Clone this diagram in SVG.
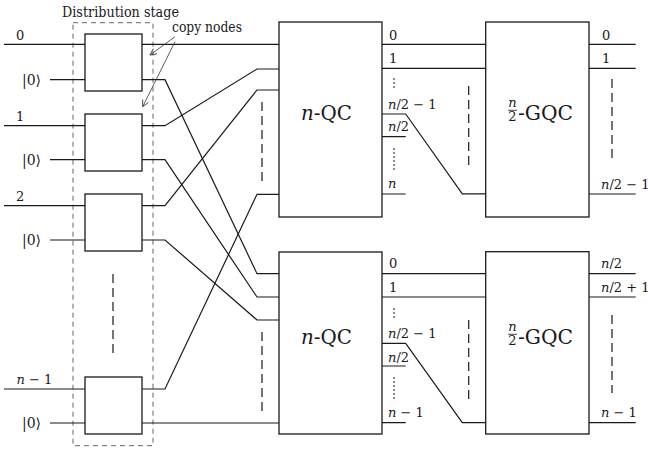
<svg xmlns="http://www.w3.org/2000/svg" width="648" height="451" viewBox="0 0 648 451" font-family="'DejaVu Serif', serif">
<defs>
<style>
.box{fill:#fff;stroke:#1a1a1a;stroke-width:1.3}
.w{fill:none;stroke:#1a1a1a;stroke-width:1.2}
.dash{fill:none;stroke:#1a1a1a;stroke-width:1.2;stroke-dasharray:9,5}
.dot{fill:none;stroke:#1a1a1a;stroke-width:1;stroke-dasharray:2,2}
.stage{fill:none;stroke:#555;stroke-width:0.9;stroke-dasharray:5,4}
.arr{fill:none;stroke:#333;stroke-width:0.8}
text{fill:#1a1a1a}
.s{font-size:13px}
.m{font-size:14px}
.big{font-size:20px}
.i{font-style:italic}
</style>
<marker id="ah" viewBox="0 0 10 10" refX="9" refY="5" markerWidth="8" markerHeight="8" markerUnits="userSpaceOnUse" orient="auto">
<path d="M1,1 L9,5 L1,9" fill="none" stroke="#333" stroke-width="1"/>
</marker>
</defs>

<g id="distribution-stage">
<rect class="stage" x="73" y="22.7" width="80" height="423"/>
<text x="62" y="16.5" font-size="15" textLength="117" lengthAdjust="spacingAndGlyphs">Distribution stage</text>
</g>

<g id="connectors">
<path class="w" d="M4,44.3H85M50,79.7H85M4,125.7H85M50,159.7H85M4,205.7H85M50,240H85M4,389H85M50,423H85"/>
<path class="w" d="M142,44.3H279"/>
<path class="w" d="M142,79.7H165L257,273.7H279"/>
<path class="w" d="M142,125.7H165L257,69H279"/>
<path class="w" d="M142,159.7H165L257,297H279"/>
<path class="w" d="M142,205.7H165L257,90H279"/>
<path class="w" d="M142,240H165L257,320H279"/>
<path class="w" d="M142,389H165L257,194.3H279"/>
<path class="w" d="M142,423H279"/>
<path class="w" d="M382,44.3H485.7M382,68.3H485.7"/>
<path class="w" d="M382,114H405.7L462.3,193.8H485.7"/>
<path class="w" d="M382,136.7H405.7M382,194H405.7"/>
<path class="w" d="M382,273.7H485.7M382,297H485.7"/>
<path class="w" d="M382,343.3H405.7L462.3,422.7H485.7"/>
<path class="w" d="M382,366H405.7M382,422.7H405.7"/>
<path class="w" d="M589,44.3H635.7M589,68.3H635.7M589,194H635.7"/>
<path class="w" d="M589,273.7H635.7M589,297H635.7M589,422.7H635.7"/>
<path class="dash" d="M113,274V353M262,102V183M262,332V412M468.7,86V166M468.7,320V400M612,79V160M612,315V393"/>
<path class="dot" d="M394,78V90M394,148V172M394,308V318M394,377V400"/>
<path class="arr" d="M175,36.7L150,55" marker-end="url(#ah)"/>
<path class="arr" d="M175,41.7L142.7,106.7" marker-end="url(#ah)"/>
</g>

<g id="copy-node-1"><rect class="box" x="85" y="34" width="57" height="57"/></g>
<g id="copy-node-2"><rect class="box" x="85" y="114" width="57" height="57"/></g>
<g id="copy-node-3"><rect class="box" x="85" y="194" width="57" height="57"/></g>
<g id="copy-node-4"><rect class="box" x="85" y="377" width="57" height="57"/></g>

<g id="copy-nodes-label">
<text x="172" y="31.7" font-size="15" textLength="70" lengthAdjust="spacingAndGlyphs">copy nodes</text>
</g>

<g id="nqc-top">
<rect class="box" x="279" y="22" width="103" height="195"/>
<text class="big" x="301" y="120" textLength="51" lengthAdjust="spacingAndGlyphs"><tspan class="i">n</tspan>-QC</text>
</g>
<g id="nqc-bottom">
<rect class="box" x="279" y="252" width="103" height="182"/>
<text class="big" x="301" y="344" textLength="51" lengthAdjust="spacingAndGlyphs"><tspan class="i">n</tspan>-QC</text>
</g>

<g id="gqc-top">
<rect class="box" x="485.7" y="22" width="103.3" height="195"/>
<text class="s i" x="512.5" y="106.5" text-anchor="middle">n</text>
<path d="M508,110.3H517" stroke="#1a1a1a" stroke-width="0.8"/>
<text class="s" x="512.5" y="121" text-anchor="middle">2</text>
<text class="big" x="518" y="120" textLength="55" lengthAdjust="spacingAndGlyphs">-GQC</text>
</g>
<g id="gqc-bottom">
<rect class="box" x="485.7" y="251.7" width="103.3" height="182.3"/>
<text class="s i" x="512.5" y="330.5" text-anchor="middle">n</text>
<path d="M508,334.3H517" stroke="#1a1a1a" stroke-width="0.8"/>
<text class="s" x="512.5" y="345" text-anchor="middle">2</text>
<text class="big" x="518" y="344" textLength="55" lengthAdjust="spacingAndGlyphs">-GQC</text>
</g>

<g id="input-labels">
<text class="s" x="16" y="39.5">0</text>
<text class="m" x="22" y="85">|0⟩</text>
<text class="s" x="16" y="121">1</text>
<text class="m" x="22" y="165">|0⟩</text>
<text class="s" x="16" y="201">2</text>
<text class="m" x="22" y="245">|0⟩</text>
<text class="s" x="16.5" y="384"><tspan class="i">n</tspan> − 1</text>
<text class="m" x="22" y="428">|0⟩</text>
</g>

<g id="nqc-output-labels">
<text class="s" x="389" y="39.5">0</text>
<text class="s" x="389" y="63">1</text>
<text class="s" x="388" y="108.5"><tspan class="i">n</tspan>/2 − 1</text>
<text class="s" x="388" y="131"><tspan class="i">n</tspan>/2</text>
<text class="s i" x="388" y="188">n</text>
<text class="s" x="389" y="267.5">0</text>
<text class="s" x="389" y="291.5">1</text>
<text class="s" x="388" y="338"><tspan class="i">n</tspan>/2 − 1</text>
<text class="s" x="388" y="361.5"><tspan class="i">n</tspan>/2</text>
<text class="s" x="388" y="417"><tspan class="i">n</tspan> − 1</text>
</g>

<g id="gqc-output-labels">
<text class="s" x="602" y="39.5">0</text>
<text class="s" x="602" y="63">1</text>
<text class="s" x="601" y="189"><tspan class="i">n</tspan>/2 − 1</text>
<text class="s" x="601" y="267.5"><tspan class="i">n</tspan>/2</text>
<text class="s" x="601" y="291.5"><tspan class="i">n</tspan>/2 + 1</text>
<text class="s" x="601" y="417"><tspan class="i">n</tspan> − 1</text>
</g>
</svg>
